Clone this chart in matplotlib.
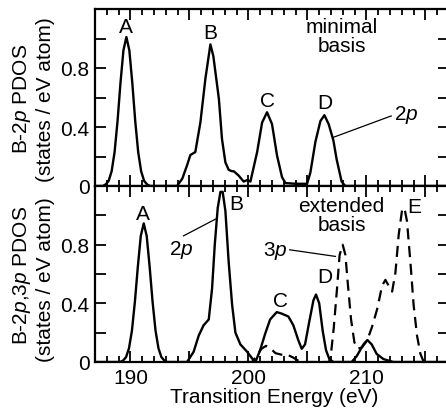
import matplotlib
matplotlib.use("Agg")
import matplotlib.pyplot as plt
from matplotlib.ticker import MultipleLocator, FuncFormatter

plt.rcParams['font.family'] = ['Liberation Sans', 'DejaVu Sans']
plt.rcParams['mathtext.fontset'] = 'custom'
plt.rcParams['mathtext.rm'] = 'Liberation Sans'
plt.rcParams['mathtext.it'] = 'Liberation Sans:italic'

# ---- data: minimal basis, B-2p PDOS ----
min_2p_x = [187.0, 187.66, 187.91, 188.16, 188.41, 188.66, 188.91, 189.16, 189.41, 189.66,
            189.91, 190.16, 190.41, 190.66, 190.91, 191.16, 191.41, 191.66,
            193.95, 194.4, 194.8, 195.08, 195.5, 195.93, 196.36, 196.78,
            197.03, 197.5, 197.76, 198.05, 198.33, 198.6, 198.76, 199.18, 199.6, 199.89,
            200.17, 200.74, 201.16, 201.58, 202.0, 202.43, 202.85, 203.14, 204.0, 204.97,
            205.25, 205.68, 206.1, 206.44, 206.8, 207.2, 207.48, 207.9, 208.2, 217.0]
min_2p_y = [0.0, 0.0, 0.011, 0.035, 0.10, 0.23, 0.44, 0.70, 0.92, 1.01,
            0.92, 0.70, 0.44, 0.23, 0.10, 0.035, 0.011, 0.0,
            0.0, 0.05, 0.14, 0.21, 0.23, 0.43, 0.73, 0.96,
            0.88, 0.59, 0.32, 0.16, 0.11, 0.10, 0.10, 0.07, 0.03, 0.04,
            0.03, 0.23, 0.43, 0.50, 0.42, 0.205, 0.06, 0.02, 0.015, 0.015,
            0.09, 0.30, 0.44, 0.48, 0.42, 0.31, 0.18, 0.03, 0.0, 0.0]

# ---- data: extended basis, B-2p PDOS (solid) ----
ext_2p_x = [187.0, 189.13, 189.38, 189.63, 189.88, 190.13, 190.38, 190.63, 190.88, 191.13,
            191.38, 191.63, 191.88, 192.13, 192.38, 192.63, 192.88, 193.13,
            194.8, 195.36, 195.79, 196.2, 196.64, 196.92, 197.15, 197.4, 197.63, 197.82,
            198.05, 198.33, 198.62, 198.9, 199.32, 199.89, 200.45,
            200.62, 200.99, 201.41, 201.84, 202.4, 202.82, 203.39, 203.81, 204.24, 204.52,
            204.8, 205.17, 205.51, 205.73, 206.0, 206.3, 206.58, 206.86, 207.2,
            208.75, 209.18, 209.75, 210.08, 210.45, 210.87, 211.44, 212.29, 217.0]
ext_2p_y = [0.0, 0.0, 0.01, 0.033, 0.093, 0.214, 0.41, 0.65, 0.86, 0.945,
            0.86, 0.65, 0.41, 0.214, 0.093, 0.033, 0.01, 0.0,
            0.0, 0.07, 0.18, 0.25, 0.29, 0.50, 0.80, 1.05, 1.16, 1.16,
            1.03, 0.68, 0.39, 0.20, 0.12, 0.07, 0.01,
            0.005, 0.08, 0.19, 0.29, 0.34, 0.33, 0.31, 0.25, 0.146, 0.09,
            0.12, 0.28, 0.42, 0.46, 0.40, 0.21, 0.08, 0.02, 0.0,
            0.0, 0.04, 0.12, 0.15, 0.12, 0.055, 0.02, 0.0, 0.0]

# ---- data: extended basis, B-3p PDOS (dashed) ----
ext_3p_x = [199.8, 200.3, 200.7, 201.1, 201.5, 201.9, 202.3, 202.8, 203.3, 203.8, 204.2, 204.6,
            206.8, 206.95, 207.23, 207.51, 207.73, 207.99, 208.22, 208.44, 208.7, 208.98,
            209.26, 209.63, 210.06, 210.48, 210.91, 211.33, 211.61, 211.89, 212.18,
            212.46, 212.74, 213.03, 213.22, 213.44, 213.73, 214.0, 214.29, 214.58, 214.86, 215.3]
ext_3p_y = [0.0, 0.0, 0.04, 0.09, 0.11, 0.09, 0.06, 0.05, 0.05, 0.03, 0.01, 0.0,
            0.0, 0.02, 0.23, 0.50, 0.73, 0.80, 0.73, 0.52, 0.29, 0.135,
            0.09, 0.10, 0.146, 0.24, 0.36, 0.52, 0.56, 0.52, 0.48,
            0.61, 0.87, 1.04, 1.05, 0.96, 0.68, 0.39, 0.18, 0.055, 0.0, 0.0]

x_ticks = [190, 200, 210]
y_ticks = [0, 0.4, 0.8]
y_tick_labels = ['0', '0.4', '0.8']

# peak labels: (text, x, y)
top_labels = [('A', 189.66, 1.08), ('B', 196.78, 1.04), ('C', 201.58, 0.58), ('D', 206.5, 0.565)]
bot_labels = [('A', 191.1, 1.01), ('B', 198.95, 1.08), ('C', 202.7, 0.42),
              ('D', 206.5, 0.58), ('E', 214.05, 1.06)]

W, H = 446, 410
fig = plt.figure(figsize=(W / 100, H / 100), dpi=100)
left = 95 / W
width = 354 / W
ax1 = fig.add_axes([left, 1 - 187 / H, width, 177 / H])
ax2 = fig.add_axes([left, 1 - 363 / H, width, 176 / H])

FS = 15
for ax in (ax1, ax2):
    ax.set_xlim(187, 217)
    ax.set_ylim(0, 1.2)
    ax.xaxis.set_major_locator(MultipleLocator(5))
    ax.xaxis.set_minor_locator(MultipleLocator(1))
    ax.set_yticks(y_ticks)
    ax.set_yticklabels(y_tick_labels)
    ax.yaxis.set_minor_locator(MultipleLocator(0.2))
    ax.tick_params(which='both', direction='in', top=True, right=True, width=1.3,
                   labelsize=FS, pad=4)
    ax.tick_params(axis='x', which='major', length=8)
    ax.tick_params(axis='x', which='minor', length=4)
    ax.tick_params(axis='y', which='major', length=8)
    ax.tick_params(axis='y', which='minor', length=8)
    for s in ax.spines.values():
        s.set_linewidth(1.6)

ax1.tick_params(axis='x', labelbottom=False)
ax2.xaxis.set_major_formatter(FuncFormatter(lambda v, p: f"{int(round(v))}" if round(v) in x_ticks else ""))

ax1.plot(min_2p_x, min_2p_y, color='black', lw=1.7)
ax2.plot(ext_2p_x, ext_2p_y, color='black', lw=1.7)
ax2.plot(ext_3p_x, ext_3p_y, color='black', lw=1.6, dashes=(5, 3))

for t, x, y in top_labels:
    ax1.text(x, y, t, ha='center', va='center', fontsize=FS)
for t, x, y in bot_labels:
    ax2.text(x, y, t, ha='center', va='center', fontsize=FS)

ax1.text(207.9, 1.02, 'minimal\nbasis', ha='center', va='center', fontsize=FS, linespacing=1.0)
ax2.text(207.9, 1.0, 'extended\nbasis', ha='center', va='center', fontsize=FS, linespacing=1.0)

ax1.text(212.3, 0.49, '2$p$', ha='left', va='center', fontsize=FS)
ax1.plot([212.1, 207.2], [0.475, 0.33], color='black', lw=0.9)
ax2.text(194.3, 0.77, '2$p$', ha='center', va='center', fontsize=FS)
ax2.plot([194.5, 197.35], [0.86, 0.98], color='black', lw=0.9)
ax2.text(203.3, 0.765, '3$p$', ha='right', va='center', fontsize=FS)
ax2.plot([203.5, 207.37], [0.765, 0.72], color='black', lw=0.9)

fig.text(22 / W, 1 - 99 / H, 'B-2$p$ PDOS', rotation=90, ha='center', va='center', fontsize=FS)
fig.text(46 / W, 1 - 100 / H, '(states / eV atom)', rotation=90, ha='center', va='center', fontsize=FS)
fig.text(22 / W, 1 - 275 / H, 'B-2$p$,3$p$ PDOS', rotation=90, ha='center', va='center', fontsize=FS)
fig.text(46 / W, 1 - 280 / H, '(states / eV atom)', rotation=90, ha='center', va='center', fontsize=FS)

fig.text(274 / W, 1 - 398 / H, 'Transition Energy (eV)', ha='center', va='center', fontsize=FS)

fig.savefig('out.png', dpi=100)
